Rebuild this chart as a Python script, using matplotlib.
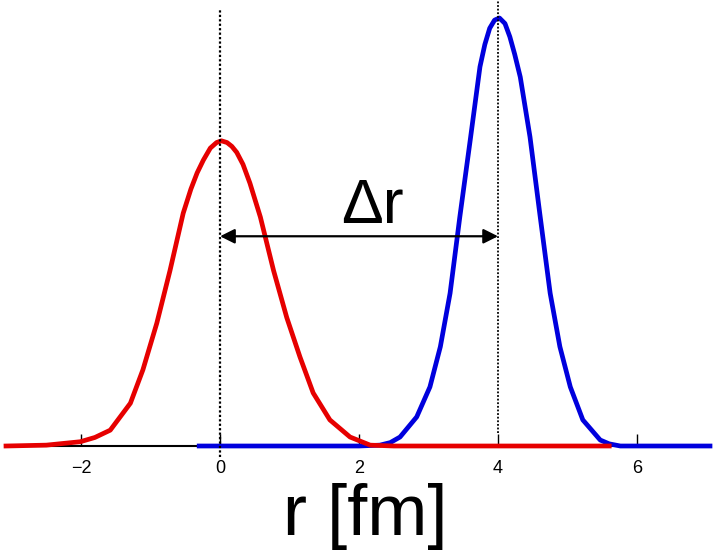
import matplotlib
matplotlib.use('Agg')
import matplotlib.pyplot as plt

# Red distribution, centred on r = 0 (height relative to the blue peak)
red_r = [-3.08, -2.5, -2.01, -1.80, -1.58, -1.29, -1.11, -0.91, -0.72, -0.53,
         -0.42, -0.33, -0.24, -0.14, -0.05, 0.02, 0.10, 0.17, 0.24, 0.33,
         0.43, 0.58, 0.77, 0.96, 1.15, 1.34, 1.58, 1.87, 2.16, 2.5, 5.6]
red_h = [0.0, 0.002, 0.01, 0.02, 0.037, 0.10, 0.178, 0.287, 0.41, 0.544,
         0.60, 0.638, 0.668, 0.696, 0.709, 0.713, 0.709, 0.700, 0.686, 0.658,
         0.614, 0.535, 0.41, 0.30, 0.208, 0.124, 0.061, 0.021, 0.002, 0.0, 0.0]

# Blue distribution, centred on r = 4
blue_r = [-0.3, 2.0, 2.30, 2.45, 2.59, 2.83, 3.02, 3.17, 3.31, 3.45, 3.60,
          3.74, 3.81, 3.88, 3.95, 4.02, 4.10, 4.17, 4.24, 4.32, 4.46, 4.60,
          4.75, 4.89, 5.04, 5.22, 5.47, 5.60, 5.76, 7.05]
blue_h = [0.0, 0.0, 0.002, 0.008, 0.021, 0.068, 0.138, 0.232, 0.357, 0.535,
          0.715, 0.886, 0.938, 0.976, 0.995, 1.0, 0.987, 0.956, 0.915, 0.862,
          0.722, 0.544, 0.357, 0.232, 0.138, 0.061, 0.014, 0.005, 0.0, 0.0]

centres = [0, 4]
tick_values = [-2, 0, 2, 4, 6]

plt.rcParams['font.family'] = ['Liberation Sans', 'DejaVu Sans']

fig = plt.figure(figsize=(7.15, 5.5), dpi=100)
ax = fig.add_axes([6 / 715, 104 / 550, 704 / 715, 446 / 550])
ax.set_xlim(-3.08, 7.05)
ax.set_ylim(0, 1.042)

ax.plot(blue_r, blue_h, color='#0000dd', lw=3.4, clip_on=False,
        solid_joinstyle='round', zorder=3)
ax.plot(red_r, red_h, color='#e60000', lw=3.4, clip_on=False,
        solid_joinstyle='round', zorder=4)

# dotted markers at the two centres
ax.plot([centres[0], centres[0]], [-0.025, 1.02], color='black', lw=1.6,
        ls=(0, (1, 1)), clip_on=False, zorder=5)
ax.plot([centres[1], centres[1]], [0.03, 1.05], color='black', lw=1.3,
        ls=(0, (1, 1)), clip_on=False, zorder=5)

# separation arrow
ax.annotate('', xy=(centres[1], 0.49), xytext=(centres[0], 0.49),
            arrowprops=dict(arrowstyle='<|-|>', color='black', lw=1.6,
                            mutation_scale=22, shrinkA=0, shrinkB=0),
            zorder=6)
ax.text(2.19, 0.521, '\u0394r', fontsize=45, ha='center', va='baseline')

for side in ['left', 'right', 'top']:
    ax.spines[side].set_visible(False)
ax.spines['bottom'].set_linewidth(1.5)
ax.set_yticks([])
ax.set_xticks(tick_values)
ax.set_xticklabels([str(v).replace('-', '\u2212') for v in tick_values])
ax.tick_params(axis='x', direction='in', length=9, width=1, pad=10,
               labelsize=13)

fig.text(365 / 715, 1 - 535 / 550, 'r [fm]', fontsize=52, ha='center',
         va='baseline')

fig.savefig('out.png', dpi=100, facecolor='white')
